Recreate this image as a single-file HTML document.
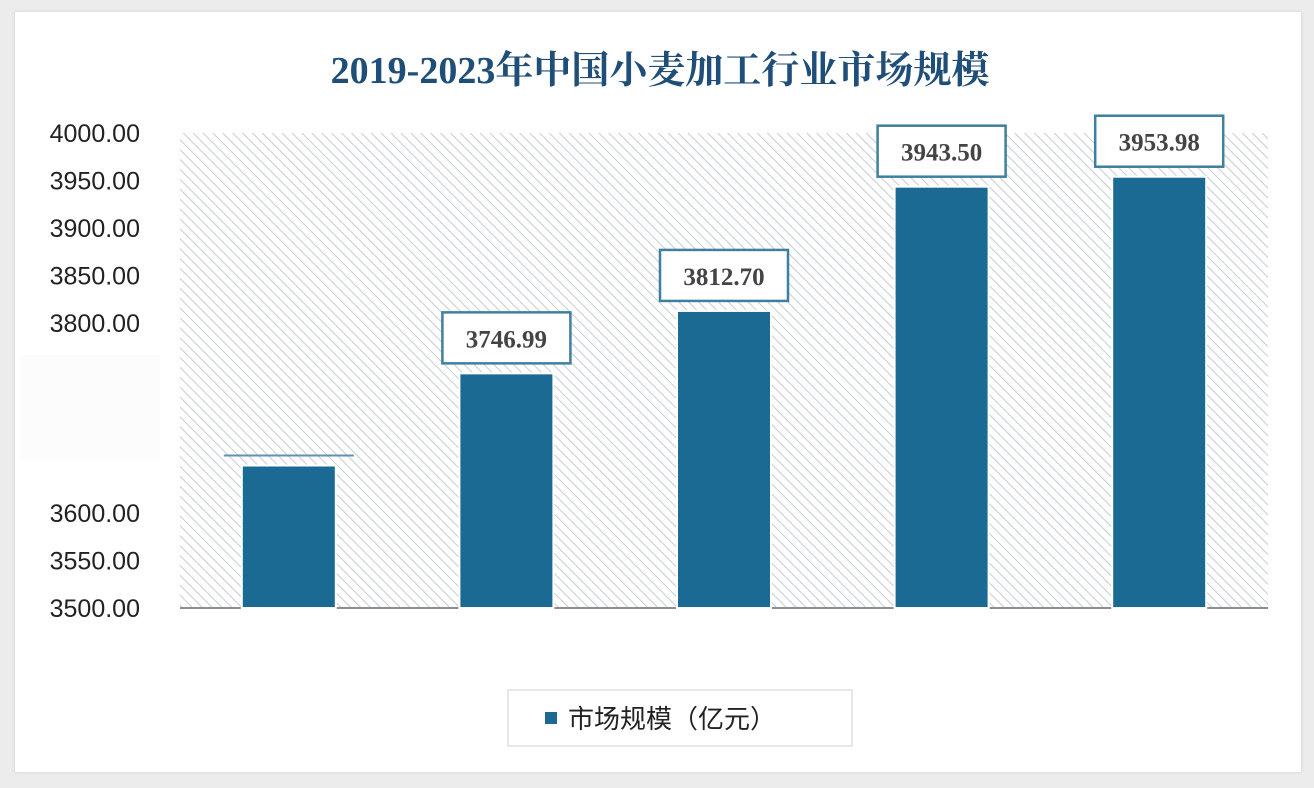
<!DOCTYPE html>
<html><head><meta charset="utf-8"><style>
html,body{margin:0;padding:0;background:#ececec;width:1314px;height:788px;overflow:hidden}
#card{position:absolute;left:15px;top:12px;width:1286px;height:760px;background:#fff;box-shadow:0 0 3px #ccc}
svg{position:absolute;left:0;top:0}
</style></head><body>
<div id="card"></div>
<svg id="chart" width="1314" height="788">
<defs>
<pattern id="hatch" patternUnits="userSpaceOnUse" width="7" height="7" patternTransform="rotate(-45)">
<rect width="7" height="7" fill="#fff"/><line x1="0" y1="0" x2="0" y2="7" stroke="#c2c6cb" stroke-width="1.8"/>
</pattern>
</defs>
<text x="660" y="83" text-anchor="middle" font-family="'Liberation Serif','Noto Serif CJK SC',serif" font-weight="bold" font-size="38" fill="#1f4e79">2019-2023年中国小麦加工行业市场规模</text>
<rect x="180" y="133" width="1088" height="475" fill="url(#hatch)"/>
<g id="yaxis"></g>
<line x1="180" y1="608" x2="1268" y2="608" stroke="#8a8f95" stroke-width="2"/>
<rect x="20" y="355" width="140" height="105" fill="#fcfcfc"/>
<g id="bars"></g>
<rect x="508" y="690" width="344" height="56" fill="#fff" stroke="#d0d0d0"/>
<rect x="545" y="712" width="12" height="12" fill="#1b6a94"/>
<text x="568" y="728" font-family="'Liberation Sans','Noto Sans CJK SC',sans-serif" font-size="26" fill="#222">市场规模（亿元）</text>
</svg>
<script>
const categories=["2019","2020","2021","2022","2023"];
const values=[3650,3746.99,3812.70,3943.50,3953.98];
const labels=["","3746.99","3812.70","3943.50","3953.98"];
const ticks=[3500,3550,3600,3800,3850,3900,3950,4000];
const NS="http://www.w3.org/2000/svg";
const y=v=>608-(v-3500)*0.95;
const x=i=>180+1088/5*(i+0.5);
const ya=document.getElementById('yaxis');
ticks.forEach(t=>{
 const tx=document.createElementNS(NS,'text');
 
 
 tx.setAttribute('x',140);tx.setAttribute('y',y(t)+9);
 tx.setAttribute('text-anchor','end');
 tx.setAttribute('font-family','Liberation Sans,sans-serif');
 tx.setAttribute('font-size','25');tx.setAttribute('fill','#222');
 tx.textContent=t.toFixed(2);ya.appendChild(tx);
});
const g=document.getElementById('bars');
values.forEach((v,i)=>{
 const r=document.createElementNS(NS,'rect');
 
 
 r.setAttribute('x',x(i)-47);r.setAttribute('y',y(v));
 r.setAttribute('width',94);r.setAttribute('height',608-y(v));
 r.setAttribute('fill','#1b6a94');r.setAttribute('stroke','#fff');r.setAttribute('stroke-width','2');
 g.appendChild(r);
 if(labels[i]){
  const b=document.createElementNS(NS,'rect');
  
  
  b.setAttribute('x',x(i)-64);b.setAttribute('y',y(v)-61);
  b.setAttribute('width',128);b.setAttribute('height',51);
  b.setAttribute('fill','#fff');b.setAttribute('stroke','#3f7f9f');b.setAttribute('stroke-width','2.5');
  g.appendChild(b);
  const t=document.createElementNS(NS,'text');
  
  
  t.setAttribute('x',x(i));t.setAttribute('y',y(v)-26);
  t.setAttribute('text-anchor','middle');
  t.setAttribute('font-family','Liberation Serif,serif');t.setAttribute('font-weight','bold');
  t.setAttribute('font-size','25');t.setAttribute('fill','#444');
  t.textContent=labels[i];g.appendChild(t);
 } else {
  const l=document.createElementNS(NS,'line');
  
  
  l.setAttribute('x1',x(i)-65);l.setAttribute('x2',x(i)+65);
  l.setAttribute('y1',y(v)-10);l.setAttribute('y2',y(v)-10);
  l.setAttribute('stroke','#5f93b3');l.setAttribute('stroke-width','2');
  g.appendChild(l);
 }
});
</script>
</body></html>
